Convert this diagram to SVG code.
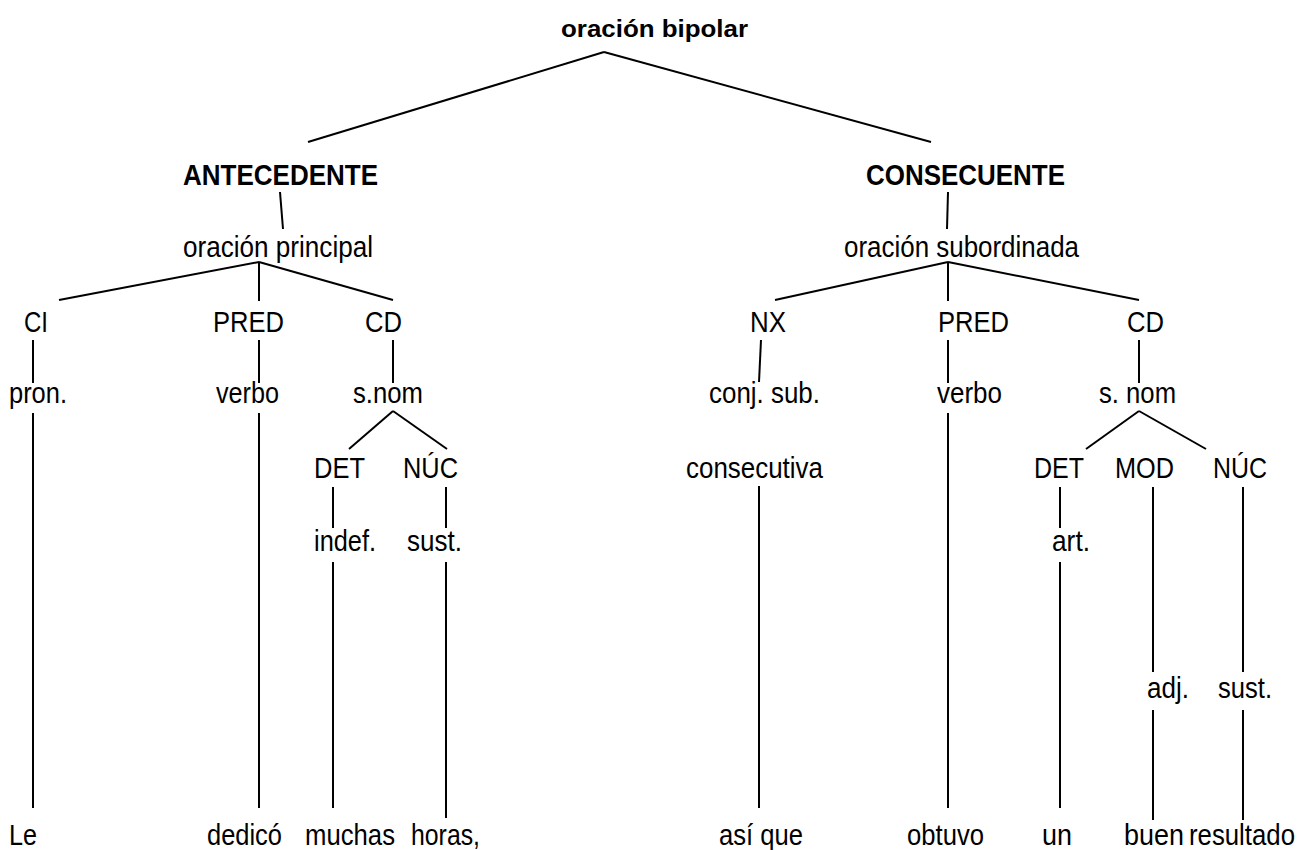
<svg xmlns="http://www.w3.org/2000/svg" width="1312" height="850" viewBox="0 0 1312 850">
<style>
text{font-family:"Liberation Sans",Arial,sans-serif;font-size:30px;fill:#000}
.b{font-weight:bold;font-size:29px}
.t{font-size:24px}
#connectors line{stroke:#000;stroke-width:2;fill:none}
</style>
<rect width="1312" height="850" fill="#fff"/>
<g id="connectors">
<line x1="604" y1="52" x2="308" y2="142"/>
<line x1="604" y1="52" x2="931" y2="142"/>
<line x1="280" y1="192" x2="283" y2="229"/>
<line x1="948" y1="192" x2="947" y2="229"/>
<line x1="259" y1="262" x2="59" y2="300"/>
<line x1="259" y1="262" x2="259" y2="301"/>
<line x1="259" y1="262" x2="393" y2="300"/>
<line x1="948" y1="262" x2="775" y2="300"/>
<line x1="948" y1="262" x2="948" y2="301"/>
<line x1="948" y1="262" x2="1139" y2="300"/>
<line x1="33" y1="340" x2="33" y2="383"/>
<line x1="259" y1="340" x2="259" y2="383"/>
<line x1="393" y1="340" x2="393" y2="383"/>
<line x1="761" y1="340" x2="759" y2="382"/>
<line x1="948" y1="340" x2="948" y2="383"/>
<line x1="1139" y1="340" x2="1139" y2="383"/>
<line x1="33" y1="413" x2="33" y2="808"/>
<line x1="259" y1="413" x2="259" y2="808"/>
<line x1="393" y1="411" x2="349" y2="449"/>
<line x1="393" y1="411" x2="447" y2="449"/>
<line x1="948" y1="413" x2="948" y2="808"/>
<line x1="1139" y1="411" x2="1086" y2="449"/>
<line x1="1139" y1="411" x2="1206" y2="449"/>
<line x1="333" y1="487" x2="333" y2="528"/>
<line x1="446" y1="487" x2="446" y2="528"/>
<line x1="759" y1="486" x2="759" y2="808"/>
<line x1="1060" y1="487" x2="1060" y2="528"/>
<line x1="1153" y1="487" x2="1153" y2="672"/>
<line x1="1243" y1="487" x2="1243" y2="672"/>
<line x1="333" y1="562" x2="333" y2="808"/>
<line x1="446" y1="562" x2="446" y2="818"/>
<line x1="1060" y1="562" x2="1060" y2="808"/>
<line x1="1153" y1="710" x2="1153" y2="820"/>
<line x1="1243" y1="710" x2="1243" y2="820"/>
</g>
<g id="n-root"><text class="b t" x="561" y="37" textLength="187" lengthAdjust="spacingAndGlyphs">oración bipolar</text></g>
<g id="n-antecedente"><text class="b" x="183" y="185" textLength="195" lengthAdjust="spacingAndGlyphs">ANTECEDENTE</text></g>
<g id="n-consecuente"><text class="b" x="866" y="185" textLength="199" lengthAdjust="spacingAndGlyphs">CONSECUENTE</text></g>
<g id="n-oprincipal"><text x="183" y="257" textLength="190" lengthAdjust="spacingAndGlyphs">oración principal</text></g>
<g id="n-osubordinada"><text x="844" y="257" textLength="235" lengthAdjust="spacingAndGlyphs">oración subordinada</text></g>
<g id="n-ci"><text x="24" y="332" textLength="24" lengthAdjust="spacingAndGlyphs">CI</text></g>
<g id="n-pred1"><text x="213" y="332" textLength="71" lengthAdjust="spacingAndGlyphs">PRED</text></g>
<g id="n-cd1"><text x="365" y="332" textLength="37" lengthAdjust="spacingAndGlyphs">CD</text></g>
<g id="n-nx"><text x="750" y="332" textLength="36" lengthAdjust="spacingAndGlyphs">NX</text></g>
<g id="n-pred2"><text x="938" y="332" textLength="71" lengthAdjust="spacingAndGlyphs">PRED</text></g>
<g id="n-cd2"><text x="1127" y="332" textLength="37" lengthAdjust="spacingAndGlyphs">CD</text></g>
<g id="n-pron"><text x="9" y="403" textLength="58" lengthAdjust="spacingAndGlyphs">pron.</text></g>
<g id="n-verbo1"><text x="216" y="403" textLength="63" lengthAdjust="spacingAndGlyphs">verbo</text></g>
<g id="n-snom1"><text x="353" y="403" textLength="70" lengthAdjust="spacingAndGlyphs">s.nom</text></g>
<g id="n-conjsub"><text x="709" y="403" textLength="111" lengthAdjust="spacingAndGlyphs">conj. sub.</text></g>
<g id="n-verbo2"><text x="937" y="403" textLength="65" lengthAdjust="spacingAndGlyphs">verbo</text></g>
<g id="n-snom2"><text x="1099" y="403" textLength="77" lengthAdjust="spacingAndGlyphs">s. nom</text></g>
<g id="n-det1"><text x="314" y="478" textLength="51" lengthAdjust="spacingAndGlyphs">DET</text></g>
<g id="n-nuc1"><text x="403" y="478" textLength="55" lengthAdjust="spacingAndGlyphs">NÚC</text></g>
<g id="n-consecutiva"><text x="686" y="478" textLength="137" lengthAdjust="spacingAndGlyphs">consecutiva</text></g>
<g id="n-det2"><text x="1034" y="478" textLength="50" lengthAdjust="spacingAndGlyphs">DET</text></g>
<g id="n-mod"><text x="1115" y="478" textLength="59" lengthAdjust="spacingAndGlyphs">MOD</text></g>
<g id="n-nuc2"><text x="1213" y="478" textLength="54" lengthAdjust="spacingAndGlyphs">NÚC</text></g>
<g id="n-indef"><text x="314" y="551" textLength="62" lengthAdjust="spacingAndGlyphs">indef.</text></g>
<g id="n-sust1"><text x="407" y="551" textLength="55" lengthAdjust="spacingAndGlyphs">sust.</text></g>
<g id="n-art"><text x="1052" y="551" textLength="38" lengthAdjust="spacingAndGlyphs">art.</text></g>
<g id="n-adj"><text x="1147" y="698" textLength="42" lengthAdjust="spacingAndGlyphs">adj.</text></g>
<g id="n-sust2"><text x="1218" y="698" textLength="54" lengthAdjust="spacingAndGlyphs">sust.</text></g>
<g id="w-le"><text x="9" y="845" textLength="28" lengthAdjust="spacingAndGlyphs">Le</text></g>
<g id="w-dedico"><text x="207" y="845" textLength="75" lengthAdjust="spacingAndGlyphs">dedicó</text></g>
<g id="w-muchas"><text x="305" y="845" textLength="90" lengthAdjust="spacingAndGlyphs">muchas</text></g>
<g id="w-horas"><text x="411" y="845" textLength="69" lengthAdjust="spacingAndGlyphs">horas,</text></g>
<g id="w-asique"><text x="719" y="845" textLength="84" lengthAdjust="spacingAndGlyphs">así que</text></g>
<g id="w-obtuvo"><text x="907" y="845" textLength="77" lengthAdjust="spacingAndGlyphs">obtuvo</text></g>
<g id="w-un"><text x="1042" y="845" textLength="30" lengthAdjust="spacingAndGlyphs">un</text></g>
<g id="w-buen"><text x="1124" y="845" textLength="60" lengthAdjust="spacingAndGlyphs">buen</text></g>
<g id="w-resultado"><text x="1189" y="845" textLength="106" lengthAdjust="spacingAndGlyphs">resultado</text></g>
</svg>
